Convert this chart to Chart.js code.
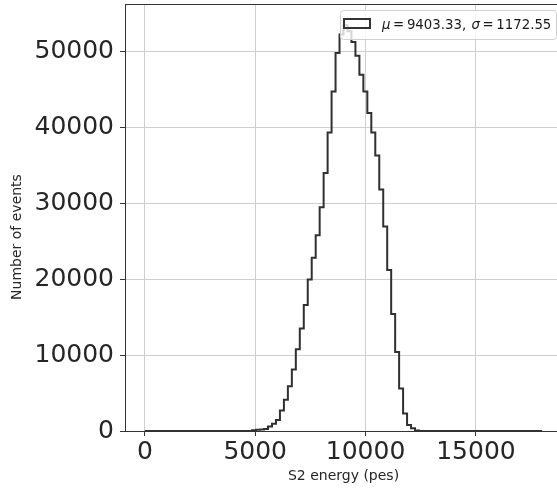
<!DOCTYPE html>
<html><head><meta charset="utf-8">
<script src="https://cdn.jsdelivr.net/npm/chart.js@4.4.1/dist/chart.umd.min.js"></script>
<style>
html,body{margin:0;padding:0;background:#fff;overflow:hidden;}
#wrap{position:relative;width:562px;height:490px;}
</style></head><body>
<div id="wrap"><canvas id="c" width="562" height="490"></canvas></div>
<script>
// histogram structure
const histMin = 0, histMax = 18000, nBins = 100;
// counts per bin
const counts = [
  0,0,0,0,0,0,0,0,0,0, 0,0,0,0,0,0,0,0,0,0, 0,0,0,0,0,0,0,0,
  100,150,200,250,
  600,950,1450,2700,4100,5900,8100,10750,13500,16600,
  19950,22800,25750,29450,33950,39300,44700,49750,52200,53400,
  52600,51200,49400,46900,44700,41850,39300,36250,31800,26900,
  21200,15400,10400,5600,2300,790,350,80,
  0,0,0,0,0,0,0,0,0,0, 0,0,0,0,0,0,0,0,0,0, 0,0,0,0,0,0,0,0,0,0
];
const xTicks = [0, 5000, 10000, 15000];
const yTicks = [0, 10000, 20000, 30000, 40000, 50000];
const xLimits = [-900, 18900];
const yLimits = [0, 56200];
const muValue = '9403.33';
const sigmaValue = '1172.55';
const xTitle = 'S2 energy (pes)';
const yTitle = 'Number of events';

const binWidth = (histMax - histMin) / nBins;
const points = [{x: histMin, y: 0}];
counts.forEach((c, i) => points.push({x: histMin + i * binWidth, y: c}));
points.push({x: histMax, y: counts[nBins - 1]});
points.push({x: histMax, y: 0});

const FONT = '"DejaVu Sans", sans-serif';

const extras = {
  id: 'extras',
  afterDraw(chart) {
    const {ctx, chartArea: ca} = chart;
    ctx.save();
    // top spine
    ctx.strokeStyle = '#333';
    ctx.lineWidth = 1;
    ctx.beginPath();
    ctx.moveTo(ca.left, Math.round(ca.top) + 0.5);
    ctx.lineTo(ca.right, Math.round(ca.top) + 0.5);
    ctx.stroke();
    ctx.restore();

    // y title
    ctx.save();
    ctx.translate(17, 237);
    ctx.rotate(-Math.PI / 2);
    ctx.font = '14px ' + FONT;
    ctx.fillStyle = '#262626';
    ctx.textAlign = 'center';
    ctx.textBaseline = 'middle';
    ctx.fillText(yTitle, 0, 0);
    ctx.restore();

    // legend
    ctx.save();
    const bx = 340.5, by = 10.5, bw = 216, bh = 29;
    ctx.beginPath();
    ctx.roundRect(bx, by, bw, bh, 3);
    ctx.fillStyle = 'rgba(255,255,255,0.8)';
    ctx.fill();
    ctx.strokeStyle = '#d0d0d0';
    ctx.lineWidth = 1;
    ctx.stroke();
    // handle
    ctx.strokeStyle = '#333';
    ctx.lineWidth = 2;
    ctx.strokeRect(344, 19, 26, 9);
    // text
    const size = 13.3;
    const normal = size + 'px ' + FONT;
    const ital = 'italic ' + size + 'px ' + FONT;
    const parts = [
      [ital, '\u03bc'], [normal, '\u2009=\u2009' + muValue + ',\u2009\u2009'],
      [ital, '\u03c3'], [normal, '\u2009=\u2009' + sigmaValue]
    ];
    let x = 382;
    ctx.fillStyle = '#1a1a1a';
    ctx.textBaseline = 'alphabetic';
    ctx.textAlign = 'left';
    parts.forEach(([f, t]) => {
      ctx.font = f;
      ctx.fillText(t, x, 28.5);
      x += ctx.measureText(t).width;
    });
    ctx.restore();
  }
};

function noPad(s) { s.paddingTop = 0; s.paddingBottom = 0; s.paddingLeft = 0; s.paddingRight = 0; }

new Chart(document.getElementById('c'), {
  type: 'line',
  data: {
    datasets: [{
      label: '\u03bc=' + muValue + ', \u03c3=' + sigmaValue,
      data: points,
      stepped: 'after',
      borderColor: '#303030',
      borderWidth: 2,
      pointRadius: 0,
      fill: false
    }]
  },
  options: {
    responsive: false,
    animation: false,
    devicePixelRatio: 1,
    layout: {padding: {top: 4, right: 0, left: 0, bottom: 0}},
    plugins: {legend: {display: false}, tooltip: {enabled: false}},
    scales: {
      x: {
        type: 'linear',
        min: xLimits[0], max: xLimits[1],
        afterBuildTicks: s => { s.ticks = xTicks.map(v => ({value: v})); },
        afterFit: s => { s.height = 59; noPad(s); },
        grid: {color: '#cfcfcf', lineWidth: 1, tickColor: '#333', tickLength: 5, drawTicks: true},
        border: {color: '#333', width: 1},
        ticks: {font: {family: FONT, size: 25}, color: '#262626', padding: 1, maxRotation: 0, autoSkip: false,
                callback: v => String(v)},
        title: {display: true, text: xTitle, font: {family: FONT, size: 14}, color: '#262626', padding: {top: 0, bottom: 5}}
      },
      y: {
        type: 'linear',
        min: yLimits[0], max: yLimits[1],
        afterBuildTicks: s => { s.ticks = yTicks.map(v => ({value: v})); },
        afterFit: s => { s.width = 125; noPad(s); },
        grid: {color: '#cfcfcf', lineWidth: 1, tickColor: '#333', tickLength: 5, drawTicks: true},
        border: {color: '#333', width: 1},
        ticks: {font: {family: FONT, size: 25}, color: '#262626', padding: 6, autoSkip: false,
                callback: v => String(v)}
      }
    }
  },
  plugins: [extras]
});
</script>
</body></html>
